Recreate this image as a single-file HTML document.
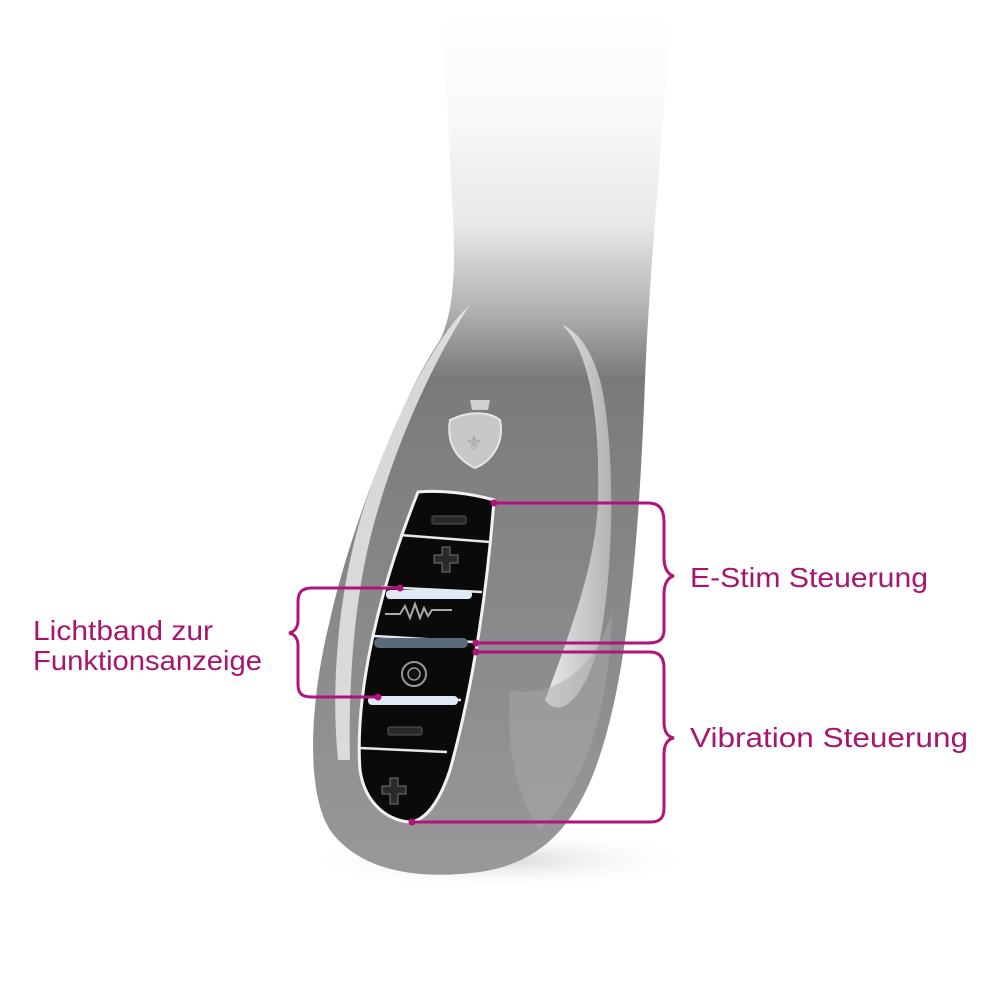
<!DOCTYPE html>
<html><head><meta charset="utf-8"><style>html,body{margin:0;padding:0;background:#fff}svg{display:block}</style></head>
<body>
<svg width="1000" height="1000" viewBox="0 0 1000 1000" xmlns="http://www.w3.org/2000/svg">
<defs>
<linearGradient id="body" gradientUnits="userSpaceOnUse" x1="0" y1="0" x2="0" y2="900">
<stop offset="0" stop-color="#ffffff"/>
<stop offset="0.12" stop-color="#fafafa"/>
<stop offset="0.25" stop-color="#e8e8e8"/>
<stop offset="0.34" stop-color="#b4b4b4"/>
<stop offset="0.42" stop-color="#7a7a7c"/>
<stop offset="0.7" stop-color="#8a8a8c"/>
<stop offset="1" stop-color="#9a9a9c"/>
</linearGradient>
<radialGradient id="shadow" cx="0.5" cy="0.5" r="0.5">
<stop offset="0" stop-color="#ccc" stop-opacity="0.8"/>
<stop offset="1" stop-color="#fff" stop-opacity="0"/>
</radialGradient>
<linearGradient id="hlR" x1="0" y1="0" x2="1" y2="0">
<stop offset="0" stop-color="#f4f4f4"/><stop offset="1" stop-color="#b8b8b8"/>
</linearGradient>
</defs>
<ellipse cx="500" cy="860" rx="200" ry="30" fill="url(#shadow)"/>
<path d="M443,20 L670,20 C662,150 650,260 645,380 C640,520 630,640 610,720 C590,800 560,860 480,872 C420,880 360,872 330,830 C305,790 310,700 330,620 C350,530 400,400 440,340 C455,310 456,260 452,200 C448,120 445,60 443,20 Z" fill="url(#body)"/>
<path d="M470,305 C440,330 390,420 360,520 C340,590 330,680 338,760 L350,760 C348,680 355,590 375,520 C400,430 440,350 470,305 Z" fill="#e8e8e8" opacity="0.85"/>
<path d="M562,325 C590,350 600,420 598,500 C596,560 575,620 545,700 C560,720 585,700 600,640 C615,560 615,440 600,380 C590,345 575,330 562,325 Z" fill="url(#hlR)" opacity="0.9"/>
<path d="M510,690 C560,700 600,660 612,610 C610,700 590,780 540,830 C520,800 505,760 510,690Z" fill="#a8a8aa" opacity="0.5"/>
<path d="M450,420 C470,410 490,412 500,420 C505,445 490,462 475,468 C458,460 446,445 450,420 Z" fill="#c8c8c8" stroke="#e6e6e6" stroke-width="2"/>
<path d="M470,400 l20,0 l-2,10 l-16,0 Z" fill="#d0d0d0"/>
<text x="474" y="450" font-size="20" fill="#a8a8a8" text-anchor="middle" font-family="DejaVu Sans, sans-serif">⚜</text>
<path d="M418,492 C440,490 470,493 494,500 C488,580 475,680 450,770 C440,800 428,818 412,822 C390,822 365,805 360,770 C355,700 375,600 418,492 Z" fill="#0a0a0a" stroke="#f2f2f2" stroke-width="3"/>
<g stroke="#e8e8e8" stroke-width="2.5" fill="none">
<path d="M400,535 L490,542"/>
<path d="M381,587 L482,592"/>
<path d="M374,636 L474,642"/>
<path d="M365,697 L461,700"/>
<path d="M360,748 L447,752"/>
</g>
<rect x="386" y="590" width="86" height="9" rx="4" fill="#dfeaf4"/>
<rect x="374" y="638" width="94" height="10" rx="5" fill="#5b6a78"/>
<rect x="368" y="696" width="90" height="9" rx="4" fill="#dfeaf4"/>
<rect x="432" y="516" width="34" height="8" rx="2" fill="#2a2a2a" stroke="#555" stroke-width="1"/>
<path d="M434,555 h8 v-8 h8 v8 h8 v8 h-8 v9 h-8 v-9 h-8 Z" fill="#2a2a2a" stroke="#777" stroke-width="1"/>
<path d="M385,614 h15 l5,-8 l5,12 l5,-14 l5,14 l4,-10 l4,8 l4,-6 h20" fill="none" stroke="#aaa" stroke-width="2"/>
<circle cx="414" cy="674" r="12" fill="none" stroke="#999" stroke-width="2"/>
<circle cx="414" cy="674" r="6" fill="#111" stroke="#999" stroke-width="1.5"/>
<rect x="388" y="727" width="34" height="8" rx="2" fill="#2a2a2a" stroke="#555" stroke-width="1"/>
<path d="M382,786 h8 v-8 h8 v8 h8 v8 h-8 v10 h-8 v-10 h-8 Z" fill="#2a2a2a" stroke="#777" stroke-width="1"/>
<g fill="none" stroke="#b0137a" stroke-width="3">
<path d="M494,503 L648,503 C660,503 664,510 664,522 L664,558 C664,568 668,575 674,576 C668,577 664,584 664,594 L664,630 C664,640 658,643 648,643 L476,643"/>
<path d="M476,652 L650,652 C660,652 664,658 664,668 L664,722 C664,732 668,737 674,738 C668,739 664,744 664,754 L664,808 C664,818 660,822 650,822 L412,822"/>
<path d="M400,588 L312,588 C302,588 298,592 298,602 L298,620 C298,628 294,632 289,633 C294,634 298,638 298,646 L298,684 C298,694 302,697 312,697 L378,697"/>
</g>
<g fill="#b0137a">
<circle cx="494" cy="503" r="3.5"/><circle cx="476" cy="643" r="3.5"/><circle cx="476" cy="652" r="3.5"/>
<circle cx="412" cy="822" r="3.5"/><circle cx="400" cy="588" r="3.5"/><circle cx="378" cy="697" r="3.5"/>
</g>
<g font-family="Liberation Sans, sans-serif" font-size="28" fill="#a8156e">
<text x="690" y="587" textLength="238" lengthAdjust="spacingAndGlyphs">E-Stim Steuerung</text>
<text x="690" y="747" textLength="278" lengthAdjust="spacingAndGlyphs">Vibration Steuerung</text>
<text x="33" y="640" textLength="180" lengthAdjust="spacingAndGlyphs">Lichtband zur</text>
<text x="33" y="670" textLength="229" lengthAdjust="spacingAndGlyphs">Funktionsanzeige</text>
</g>
</svg>
</body></html>
